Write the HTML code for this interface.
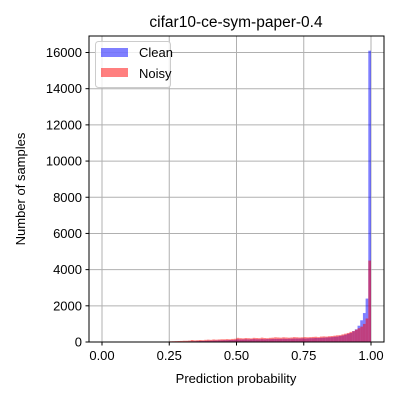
<!DOCTYPE html>
<html><head><meta charset="utf-8"><style>body{margin:0;background:#fff}svg{font-family:"Liberation Sans","DejaVu Sans",sans-serif}</style></head>
<body>
<svg id="chart" width="400" height="400" viewBox="0 0 400 400">
<rect width="400" height="400" fill="#fff"/>
<g id="grid"></g>
<g id="bars"></g>
<rect x="89" y="36" width="295" height="306" fill="none" stroke="#000" stroke-width="1"/>
<g id="ticks" font-size="13"></g>
<text x="236" y="27" text-anchor="middle" font-size="15.5">cifar10-ce-sym-paper-0.4</text>
<text x="236" y="383" text-anchor="middle" font-size="13">Prediction probability</text>
<text x="25" y="189" text-anchor="middle" font-size="13" transform="rotate(-90 25 189)">Number of samples</text>
<g>
<rect x="95.5" y="41.5" width="75" height="46" rx="3" fill="#fff" fill-opacity="0.8" stroke="#ccc"/>
<g><rect x="101" y="48" width="27" height="9" fill="rgba(0,0,255,0.5)"/><text x="139" y="57" font-size="13">Clean</text></g>
<g><rect x="101" y="68" width="27" height="9" fill="rgba(255,0,0,0.5)"/><text x="139" y="78" font-size="13">Noisy</text></g>
</g>
</svg>
<script>
const xTicks=[0,0.25,0.5,0.75,1.0];
const xTickLabels=["0.00","0.25","0.50","0.75","1.00"];
const yTicks=[0,2000,4000,6000,8000,10000,12000,14000,16000];
const binCount=100;
const clean=[0,0,0,0,0,0,0,0,0,0,0,0,0,0,0,0,0,0,0,0,0,0,0,0,0,
10,15,15,20,25,25,30,35,40,40,
50,55,60,60,70,70,80,80,90,90,100,100,110,110,120,
150,140,140,150,140,150,160,150,150,160,150,160,160,170,170,170,170,180,170,180,180,190,190,190,200,
190,200,210,210,220,220,230,240,250,260,270,290,300,330,360,
400,450,500,600,700,900,1200,1600,2400,16100];
const noisy=[0,0,0,0,0,0,0,0,0,0,0,0,0,0,0,0,0,0,0,0,0,0,0,0,0,
40,45,50,55,60,70,70,80,110,90,
100,110,100,120,130,120,140,130,140,150,150,160,150,170,180,
230,210,200,220,210,200,230,220,210,240,220,210,230,240,260,250,240,260,250,240,250,270,260,250,260,
270,260,270,280,290,270,300,310,300,320,330,350,370,380,420,
460,500,560,600,680,760,850,1000,1300,4500];
const X=v=>102+v*269, Y=v=>342-v*(289.5/16000);
const NS="http://www.w3.org/2000/svg";
const grid=document.getElementById('grid'),ticks=document.getElementById('ticks'),bars=document.getElementById('bars');
function mk(tag,attrs,parent){const e=document.createElementNS(NS,tag);for(const k in attrs)e.setAttribute(k,attrs[k]);parent.appendChild(e);return e;}
xTicks.forEach((t,i)=>{
 const g=mk('line',{x1:X(t),x2:X(t),y1:36,y2:342,stroke:'#b0b0b0','stroke-width':1},grid);
 
 
 mk('line',{x1:X(t),x2:X(t),y1:342,y2:345.5,stroke:'#000'},ticks);
 const tx=mk('text',{x:X(t),y:360,'text-anchor':'middle'},ticks);tx.textContent=xTickLabels[i];
 
 
});
yTicks.forEach(t=>{
 const g=mk('line',{x1:89,x2:384,y1:Y(t),y2:Y(t),stroke:'#b0b0b0','stroke-width':1},grid);
 
 
 mk('line',{x1:85.5,x2:89,y1:Y(t),y2:Y(t),stroke:'#000'},ticks);
 const tx=mk('text',{x:82,y:Y(t)+4.5,'text-anchor':'end'},ticks);tx.textContent=String(t);
 
 
});
function drawSeries(arr,color,name){
 arr.forEach((v,i)=>{if(v<=0)return;
  const x0=X(i/binCount),x1=X((i+1)/binCount);
  const r=mk('rect',{x:x0,y:Y(v),width:x1-x0,height:Y(0)-Y(v),fill:color},bars);
  
  
 });
}
drawSeries(clean,'rgba(0,0,255,0.5)','clean-bar');
drawSeries(noisy,'rgba(255,0,0,0.5)','noisy-bar');
</script>
</body></html>
